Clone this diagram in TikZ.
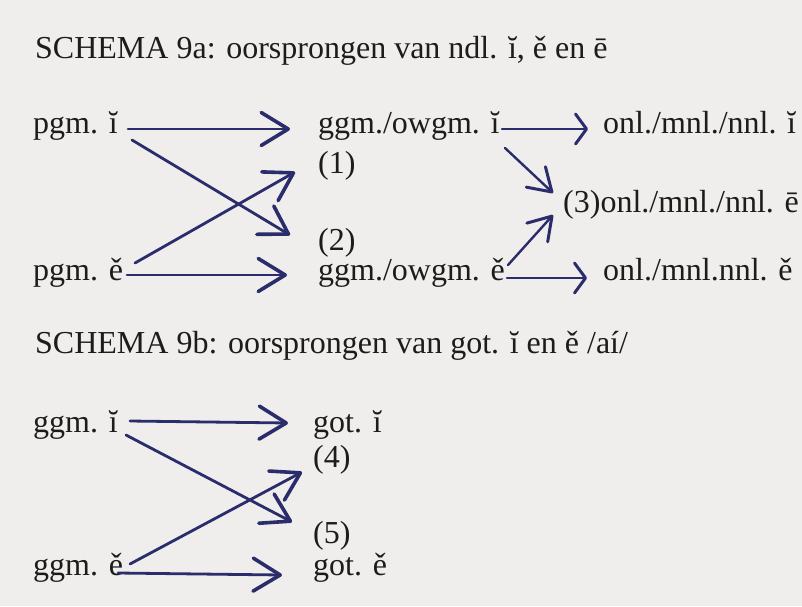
\documentclass[tikz,border=0pt]{standalone}
\usepackage{fontspec}
\setmainfont{Liberation Serif}
\usetikzlibrary{arrows.meta}
\definecolor{ink}{HTML}{2A2C6C}
\definecolor{paper}{HTML}{EFEEEC}
\definecolor{print}{HTML}{1C1C1C}
\tikzset{
  lbl/.style={anchor=base west,inner sep=0pt,text=print},
  pen/.style={draw=ink,line width=2.8pt,line cap=round,line join=round},
  bigarr/.style={pen,-{Straight Barb[length=27pt,width=33pt,line width=3.6pt,round]}},
  midarr/.style={pen,line width=2.4pt,-{Straight Barb[length=22pt,width=28pt,line width=3pt,round]}},
  smallarr/.style={pen,line width=2.4pt,-{Straight Barb[length=11pt,width=30pt,line width=3pt,round]}}
}
\begin{document}
\begin{tikzpicture}[x=1pt,y=-1pt,font=\fontsize{32}{38}\selectfont]
\fill[paper] (0,0) rectangle (802,606);
\useasboundingbox (0,0) rectangle (802,606);

% schema 9a
\node[lbl] (titlea) at (35,58) {SCHEMA 9a: oorsprongen van ndl. ĭ, ě en ē};
\node[lbl] (pgmi) at (33,133) {pgm. ĭ};
\node[lbl] (pgme) at (33,280) {pgm. ě};
\node[lbl] (ggmi) at (318,133) {ggm./owgm. ĭ};
\node[lbl] (one) at (318,173) {(1)};
\node[lbl] (two) at (318,250) {(2)};
\node[lbl] (ggme) at (318,280) {ggm./owgm. ě};
\node[lbl] (onli) at (603,133) {onl./mnl./nnl. ĭ};
\node[lbl] (onlee) at (563,212) {(3)onl./mnl./nnl. ē};
\node[lbl] (onle) at (603,280) {onl./mnl.nnl. ě};

\path (128,129) coordinate (pi-s) (290,129) coordinate (pi-t)
      (132,140) coordinate (px-s) (290,235) coordinate (px-t)
      (135,263) coordinate (pe-s) (295,172) coordinate (pe-t)
      (127,275) coordinate (pq-s) (287,275) coordinate (pq-t)
      (502,129) coordinate (gi-s) (588,129) coordinate (gi-t)
      (505,148) coordinate (gx-s) (553,193) coordinate (gx-t)
      (508,265) coordinate (ge-s) (553,215) coordinate (ge-t)
      (507,278) coordinate (gq-s) (587,278) coordinate (gq-t);
\draw[bigarr] (pi-s)--(pi-t);
\draw[bigarr] (px-s)--(px-t);
\draw[bigarr] (pe-s)--(pe-t);
\draw[bigarr] (pq-s)--(pq-t);
\draw[smallarr] (gi-s)--(gi-t);
\draw[midarr] (gx-s)--(gx-t);
\draw[midarr] (ge-s)--(ge-t);
\draw[smallarr] (gq-s)--(gq-t);

% schema 9b
\node[lbl] (titleb) at (35,353) {SCHEMA 9b: oorsprongen van got. ĭ en ě /aí/};
\node[lbl] (ggmib) at (33,432) {ggm. ĭ};
\node[lbl] (ggmeb) at (33,575) {ggm. ě};
\node[lbl] (goti) at (313,432) {got. ĭ};
\node[lbl] (four) at (313,467) {(4)};
\node[lbl] (five) at (313,543) {(5)};
\node[lbl] (gote) at (313,575) {got. ě};

\path (130,421) coordinate (bi-s) (288,423) coordinate (bi-t)
      (126,435) coordinate (bx-s) (292,522) coordinate (bx-t)
      (130,564) coordinate (be-s) (302,472) coordinate (be-t)
      (118,573) coordinate (bq-s) (282,575) coordinate (bq-t);
\draw[bigarr] (bi-s)--(bi-t);
\draw[bigarr] (bx-s)--(bx-t);
\draw[bigarr] (be-s)--(be-t);
\draw[bigarr] (bq-s)--(bq-t);
\end{tikzpicture}
\end{document}
